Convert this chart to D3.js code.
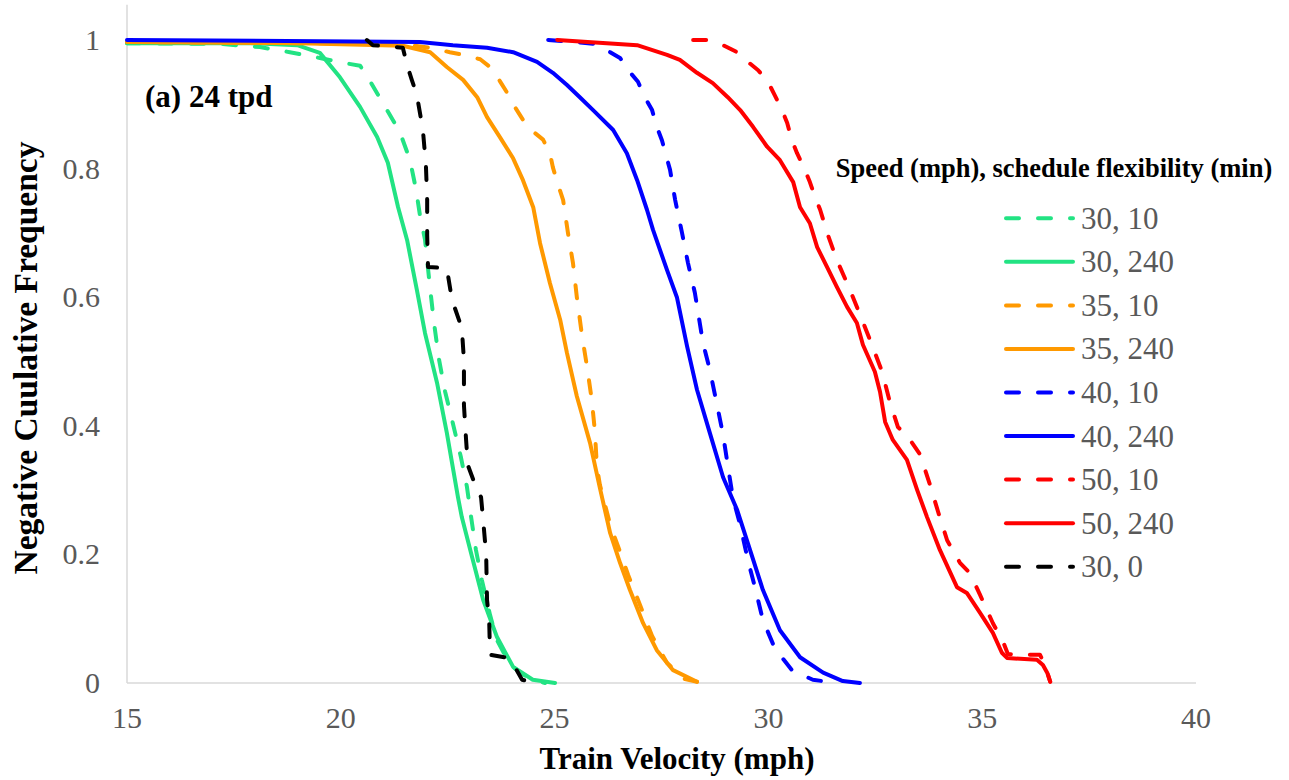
<!DOCTYPE html>
<html>
<head>
  <meta charset="utf-8">
  <title>Negative cumulative frequency of train velocity</title>
  <script src="https://d3js.org/d3.v7.min.js"></script>
  <style>
    body { margin: 0; background: #fff; }
    .tick-label { fill: #595959; font-size: 30px; }
    .title { fill: #000; font-weight: bold; }
    .curve { fill: none; stroke-width: 4px; stroke-linejoin: round; stroke-linecap: round; }
  </style>
</head>
<body>
  <svg width="1289" height="780" font-family="'Liberation Serif', Tinos, 'Times New Roman', Times, 'DejaVu Serif', serif"></svg>
  <script>
    // velocity (mph), negative cumulative frequency
    var v30_10 = [[15,0.995],[17.17,0.994],[18.11,0.989],[18.81,0.981],[19.51,0.972],[20.10,0.964],[20.45,0.960],[20.64,0.941],[21.01,0.899],[21.38,0.857],[21.62,0.813],[21.76,0.767],[21.85,0.728],[21.97,0.689],[22.08,0.619],[22.18,0.560],[22.30,0.502],[22.44,0.453],[22.62,0.404],[22.81,0.351],[22.95,0.305],[23.05,0.257],[23.16,0.207],[23.30,0.160],[23.49,0.106],[23.65,0.067],[23.96,0.028],[24.38,0.008],[24.78,0.0]];
    var v30_240 = [[15,0.995],[17.88,0.995],[18.98,0.992],[19.51,0.980],[19.98,0.942],[20.45,0.896],[20.85,0.849],[21.10,0.809],[21.34,0.740],[21.55,0.689],[21.78,0.611],[21.97,0.544],[22.25,0.467],[22.48,0.389],[22.74,0.289],[22.83,0.258],[23.07,0.196],[23.33,0.129],[23.65,0.072],[24.03,0.025],[24.49,0.005],[25.01,0.0]];
    var v35_10 = [[15,0.997],[21.38,0.994],[22.09,0.988],[22.55,0.981],[22.86,0.977],[23.26,0.970],[23.49,0.958],[23.72,0.936],[23.89,0.918],[24.07,0.896],[24.26,0.876],[24.49,0.858],[24.73,0.845],[24.89,0.824],[24.96,0.802],[25.08,0.775],[25.20,0.751],[25.31,0.701],[25.43,0.653],[25.52,0.600],[25.64,0.541],[25.76,0.491],[25.87,0.440],[25.94,0.393],[25.99,0.336],[26.06,0.308],[26.30,0.246],[26.53,0.204],[26.72,0.168],[27.00,0.121],[27.28,0.073],[27.63,0.031],[28.05,0.006],[28.33,0.002]];
    var v35_240 = [[15,0.997],[19.05,0.995],[21.45,0.991],[22.09,0.981],[22.48,0.958],[22.86,0.938],[23.19,0.911],[23.42,0.880],[23.72,0.849],[24.03,0.816],[24.26,0.782],[24.50,0.740],[24.66,0.684],[24.89,0.622],[25.13,0.565],[25.29,0.513],[25.52,0.446],[25.83,0.373],[26.06,0.303],[26.30,0.233],[26.53,0.187],[26.76,0.145],[27.07,0.093],[27.39,0.051],[27.77,0.020],[28.33,0.002]];
    var v40_10 = [[24.85,1.0],[25.43,0.997],[25.90,0.994],[26.30,0.981],[26.53,0.972],[26.76,0.950],[26.95,0.935],[27.11,0.911],[27.28,0.891],[27.39,0.865],[27.51,0.844],[27.70,0.798],[27.82,0.751],[27.98,0.700],[28.12,0.653],[28.28,0.607],[28.47,0.529],[28.63,0.487],[28.80,0.432],[28.94,0.386],[29.06,0.334],[29.17,0.288],[29.34,0.246],[29.52,0.191],[29.69,0.148],[29.87,0.098],[30.15,0.054],[30.55,0.020],[31.04,0.005],[31.37,0.002]];
    var v40_240 = [[15,1.0],[21.85,0.997],[22.62,0.992],[23.42,0.988],[24.03,0.981],[24.59,0.966],[24.96,0.949],[25.29,0.930],[25.59,0.911],[25.90,0.891],[26.37,0.860],[26.69,0.824],[26.93,0.782],[27.16,0.736],[27.30,0.705],[27.63,0.642],[27.86,0.600],[28.10,0.523],[28.33,0.456],[28.63,0.389],[28.94,0.320],[29.27,0.269],[29.57,0.207],[29.87,0.145],[30.27,0.082],[30.74,0.040],[31.28,0.016],[31.74,0.003],[32.14,0.0]];
    var v50_10 = [[28.24,1.0],[28.56,1.0],[28.94,0.992],[29.27,0.981],[29.52,0.966],[29.76,0.953],[29.99,0.935],[30.15,0.914],[30.32,0.891],[30.44,0.871],[30.55,0.844],[30.67,0.824],[30.86,0.797],[30.97,0.779],[31.09,0.756],[31.21,0.736],[31.39,0.697],[31.60,0.658],[31.91,0.611],[32.19,0.565],[32.42,0.526],[32.66,0.484],[32.84,0.437],[33.03,0.398],[33.26,0.383],[33.55,0.355],[33.78,0.308],[33.97,0.266],[34.18,0.222],[34.48,0.187],[34.71,0.171],[34.95,0.137],[35.25,0.093],[35.49,0.064],[35.60,0.045],[36.05,0.044],[36.35,0.044],[36.47,0.028],[36.59,0.002]];
    var v50_240 = [[25.06,1.0],[26.93,0.992],[27.63,0.977],[27.93,0.969],[28.33,0.949],[28.70,0.933],[29.05,0.911],[29.34,0.891],[29.64,0.865],[29.97,0.834],[30.27,0.813],[30.58,0.779],[30.74,0.740],[30.97,0.715],[31.14,0.678],[31.37,0.647],[31.60,0.616],[31.84,0.585],[32.07,0.560],[32.21,0.526],[32.49,0.484],[32.61,0.453],[32.73,0.406],[32.91,0.378],[33.24,0.347],[33.48,0.300],[33.71,0.258],[34.01,0.207],[34.41,0.149],[34.64,0.140],[34.95,0.109],[35.25,0.078],[35.46,0.047],[35.58,0.039],[36.28,0.036],[36.42,0.028],[36.52,0.016],[36.59,0.002]];
    var v30_0 = [[20.61,1.0],[20.75,0.992],[21.45,0.988],[21.55,0.961],[21.66,0.938],[21.78,0.914],[21.92,0.860],[21.99,0.806],[22.02,0.751],[22.02,0.697],[22.04,0.647],[22.48,0.645],[22.60,0.596],[22.83,0.552],[22.88,0.502],[22.88,0.432],[22.93,0.378],[22.97,0.339],[23.16,0.305],[23.28,0.289],[23.33,0.253],[23.40,0.199],[23.42,0.129],[23.47,0.098],[23.49,0.044],[23.91,0.039],[24.07,0.025],[24.24,0.005],[24.54,0.0]];

    var seriesNames = ["30, 10", "30, 240", "35, 10", "35, 240", "40, 10", "40, 240", "50, 10", "50, 240", "30, 0"];
    var seriesData = [v30_10, v30_240, v35_10, v35_240, v40_10, v40_240, v50_10, v50_240, v30_0];
    var seriesColors = ["#22e383", "#22e383", "#ff9900", "#ff9900", "#0000ff", "#0000ff", "#ff0000", "#ff0000", "#000000"];
    var seriesDashed = [true, false, true, false, true, false, true, false, true];

    var xTicks = [15, 20, 25, 30, 35, 40];
    var yTicks = [0, 0.2, 0.4, 0.6, 0.8, 1];

    var svg = d3.select("svg");
    var x = d3.scaleLinear().domain([15, 40]).range([127, 1196]);
    var y = d3.scaleLinear().domain([0, 1]).range([683, 40]);

    // axis lines
    svg.append("line").attr("x1", x(15)).attr("x2", x(40)).attr("y1", y(0)).attr("y2", y(0))
      .attr("stroke", "#d9d9d9").attr("stroke-width", 1.5);
    svg.append("line").attr("x1", x(15)).attr("x2", x(15)).attr("y1", y(0)).attr("y2", y(1.055))
      .attr("stroke", "#d9d9d9").attr("stroke-width", 1.5);

    svg.selectAll(".xt").data(xTicks).enter().append("text")
      .attr("class", "tick-label").attr("x", d => x(d)).attr("y", 728)
      .attr("text-anchor", "middle").text(d => d);
    svg.selectAll(".yt").data(yTicks).enter().append("text")
      .attr("class", "tick-label").attr("x", 100).attr("y", d => y(d) + 10)
      .attr("text-anchor", "end").text(d => d);

    svg.append("text").attr("class", "title").attr("x", 677).attr("y", 769)
      .attr("text-anchor", "middle").style("font-size", "31px").text("Train Velocity (mph)");
    svg.append("text").attr("class", "title")
      .attr("transform", "translate(37,358) rotate(-90)")
      .attr("text-anchor", "middle").style("font-size", "33.5px").text("Negative Cuulative Frequency");
    svg.append("text").attr("class", "title").attr("x", 145).attr("y", 107)
      .style("font-size", "31px").text("(a) 24 tpd");

    var line = d3.line().x(d => x(d[0])).y(d => y(d[1]));

    svg.selectAll("path.curve").data(seriesData).enter().append("path")
      .attr("class", "curve")
      .attr("d", line)
      .attr("stroke", (d, i) => seriesColors[i])
      .attr("stroke-dasharray", (d, i) => seriesDashed[i] ? "13,19" : null);

    // legend
    svg.append("text").attr("class", "title").attr("x", 1054).attr("y", 177)
      .attr("text-anchor", "middle").style("font-size", "26.5px")
      .text("Speed (mph), schedule flexibility (min)");

    var lg = svg.selectAll(".lg").data(seriesNames).enter().append("g")
      .attr("transform", (d, i) => "translate(0," + (218.3 + i * 43.55) + ")");
    lg.append("line").attr("x1", 1006).attr("x2", 1073).attr("y1", 0).attr("y2", 0)
      .attr("class", "curve")
      .attr("stroke", (d, i) => seriesColors[i])
      .attr("stroke-dasharray", (d, i) => seriesDashed[i] ? "13,19" : null);
    lg.append("text").attr("class", "tick-label").attr("x", 1081).attr("y", 10.5)
      .style("font-size", "31px").text(d => d);
  </script>
</body>
</html>
